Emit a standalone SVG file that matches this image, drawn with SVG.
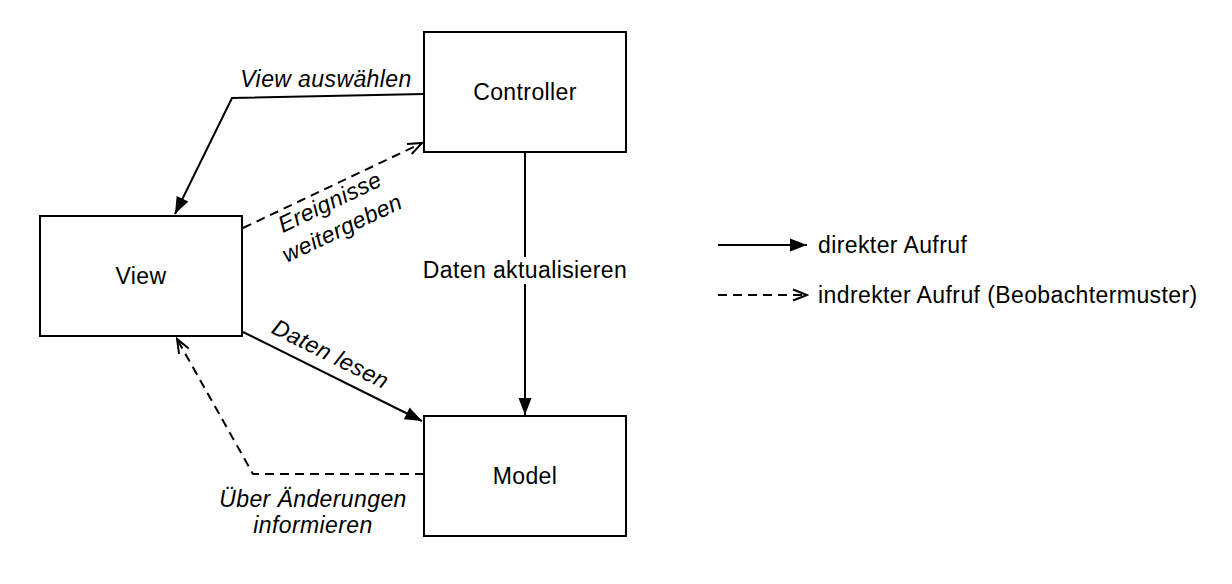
<svg xmlns="http://www.w3.org/2000/svg" width="1232" height="584" viewBox="0 0 1232 584">
<style>
.box{fill:#fff;stroke:#000;stroke-width:2}
.lbl{font-family:"Liberation Sans",Arial,sans-serif;font-size:23px;letter-spacing:0.4px;fill:#000}
.it{font-style:italic}
.solid{fill:none;stroke:#000;stroke-width:2}
.dash{fill:none;stroke:#000;stroke-width:2;stroke-dasharray:9,6}
</style>
<defs>
<marker id="fill" markerUnits="userSpaceOnUse" markerWidth="20" markerHeight="16" refX="18" refY="8" orient="auto">
<path d="M1,1.5 L18,8 L1,14.5 z" fill="#000"/>
</marker>
<marker id="open" markerUnits="userSpaceOnUse" markerWidth="18" markerHeight="14" refX="16" refY="7" orient="auto">
<path d="M2,1.5 L16,7 L2,12.5" fill="none" stroke="#000" stroke-width="2"/>
</marker>
</defs>
<rect width="1232" height="584" fill="#fff"/>
<g id="connectors">
<polyline class="solid" points="424,94 232,98 175,214" marker-end="url(#fill)"/>
<line class="dash" x1="243" y1="228" x2="422" y2="143" marker-end="url(#open)"/>
<line class="solid" x1="525" y1="152" x2="525" y2="415" marker-end="url(#fill)"/>
<line class="solid" x1="243" y1="332" x2="422" y2="421" marker-end="url(#fill)"/>
<polyline class="dash" points="424,474 253,474 177,339" marker-end="url(#open)"/>
<rect x="416" y="257" width="218" height="27" fill="#fff"/>
<text class="lbl" x="525" y="278" text-anchor="middle">Daten aktualisieren</text>
<text class="lbl it" x="326" y="87" text-anchor="middle">View auswählen</text>
<g transform="translate(333,209) rotate(-25.4)">
<text class="lbl it" x="0" y="0" text-anchor="middle">Ereignisse</text>
<text class="lbl it" x="0" y="29" text-anchor="middle">weitergeben</text>
</g>
<text class="lbl it" transform="translate(327,361) rotate(26.6)" text-anchor="middle">Daten lesen</text>
<text class="lbl it" x="313" y="507" text-anchor="middle">Über Änderungen</text>
<text class="lbl it" x="313" y="533" text-anchor="middle">informieren</text>
</g>
<g id="controller">
<rect class="box" x="424" y="32" width="202" height="120"/>
<text class="lbl" x="525" y="100" text-anchor="middle">Controller</text>
</g>
<g id="view">
<rect class="box" x="40" y="216" width="202" height="120"/>
<text class="lbl" x="141" y="284" text-anchor="middle">View</text>
</g>
<g id="model">
<rect class="box" x="424" y="416" width="202" height="120"/>
<text class="lbl" x="525" y="484" text-anchor="middle">Model</text>
</g>
<g id="legend">
<line class="solid" x1="718" y1="245" x2="807" y2="245" marker-end="url(#fill)"/>
<text class="lbl" x="818" y="253">direkter Aufruf</text>
<line class="dash" x1="718" y1="295" x2="807" y2="295" marker-end="url(#open)"/>
<text class="lbl" x="818" y="303">indrekter Aufruf (Beobachtermuster)</text>
</g>
</svg>
